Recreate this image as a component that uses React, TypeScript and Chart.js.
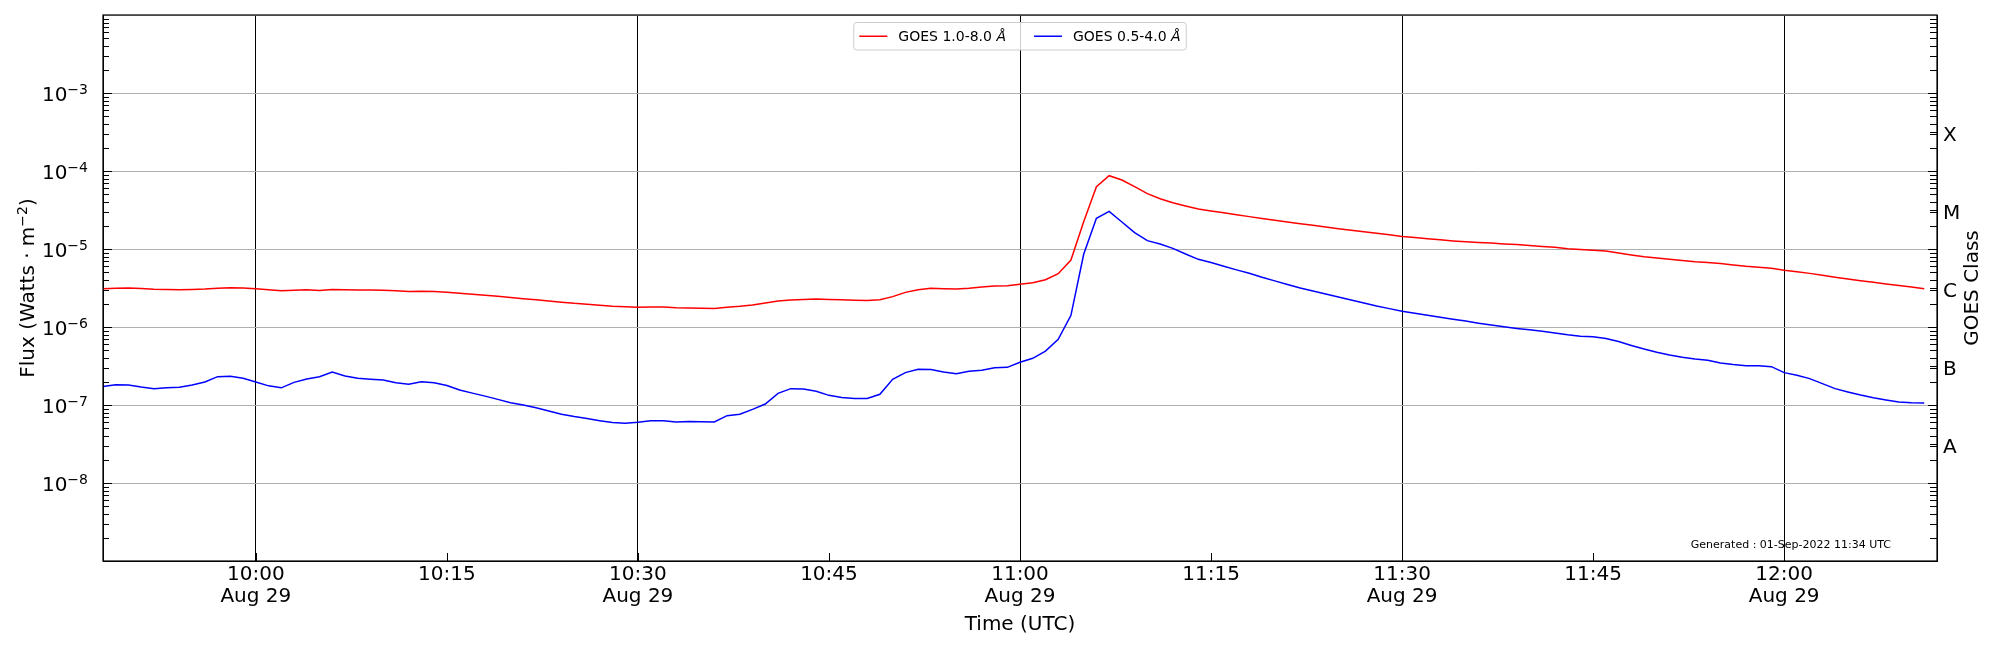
import { useEffect, useRef } from 'react';
import { Chart, registerables } from 'chart.js';

Chart.register(...registerables);

// one sample per minute, starting 09:48 UTC on Aug 29
const START_MINUTE = 9 * 60 + 48;
const X_MIN = START_MINUTE;
const X_MAX = START_MINUTE + 144;

const xrsLong = [
  3.10e-6, 3.15e-6, 3.16e-6, 3.12e-6, 3.05e-6, 3.02e-6, 3.00e-6, 3.02e-6, 3.06e-6, 3.15e-6,
  3.19e-6, 3.17e-6, 3.10e-6, 3.00e-6, 2.91e-6, 2.95e-6, 3.00e-6, 2.93e-6, 3.02e-6, 3.00e-6,
  2.99e-6, 2.98e-6, 2.96e-6, 2.92e-6, 2.86e-6, 2.87e-6, 2.85e-6, 2.78e-6, 2.70e-6, 2.63e-6,
  2.55e-6, 2.47e-6, 2.39e-6, 2.31e-6, 2.23e-6, 2.16e-6, 2.08e-6, 2.01e-6, 1.96e-6, 1.90e-6,
  1.85e-6, 1.82e-6, 1.79e-6, 1.80e-6, 1.80e-6, 1.76e-6, 1.75e-6, 1.74e-6, 1.73e-6, 1.79e-6,
  1.84e-6, 1.92e-6, 2.03e-6, 2.15e-6, 2.22e-6, 2.26e-6, 2.28e-6, 2.26e-6, 2.23e-6, 2.20e-6,
  2.18e-6, 2.24e-6, 2.45e-6, 2.78e-6, 3.01e-6, 3.13e-6, 3.10e-6, 3.07e-6, 3.15e-6, 3.26e-6,
  3.36e-6, 3.39e-6, 3.53e-6, 3.70e-6, 4.04e-6, 4.83e-6, 7.23e-6, 2.24e-5, 6.29e-5, 8.71e-5,
  7.67e-5, 6.29e-5, 5.12e-5, 4.41e-5, 3.92e-5, 3.56e-5, 3.26e-5, 3.08e-5, 2.91e-5, 2.75e-5,
  2.60e-5, 2.46e-5, 2.33e-5, 2.22e-5, 2.11e-5, 2.01e-5, 1.91e-5, 1.82e-5, 1.74e-5, 1.66e-5,
  1.59e-5, 1.52e-5, 1.45e-5, 1.40e-5, 1.35e-5, 1.31e-5, 1.27e-5, 1.24e-5, 1.21e-5, 1.19e-5,
  1.16e-5, 1.14e-5, 1.11e-5, 1.08e-5, 1.05e-5, 1.01e-5, 9.85e-6, 9.65e-6, 9.40e-6, 8.90e-6,
  8.40e-6, 7.97e-6, 7.65e-6, 7.38e-6, 7.12e-6, 6.88e-6, 6.72e-6, 6.50e-6, 6.25e-6, 6.02e-6,
  5.85e-6, 5.65e-6, 5.33e-6, 5.10e-6, 4.87e-6, 4.60e-6, 4.35e-6, 4.12e-6, 3.92e-6, 3.74e-6,
  3.57e-6, 3.40e-6, 3.25e-6, 3.10e-6,
];

const xrsShort = [
  1.72e-7, 1.82e-7, 1.80e-7, 1.70e-7, 1.62e-7, 1.67e-7, 1.69e-7, 1.80e-7, 1.97e-7, 2.31e-7,
  2.33e-7, 2.20e-7, 1.97e-7, 1.76e-7, 1.66e-7, 1.95e-7, 2.15e-7, 2.30e-7, 2.65e-7, 2.36e-7,
  2.20e-7, 2.14e-7, 2.09e-7, 1.93e-7, 1.85e-7, 1.99e-7, 1.93e-7, 1.78e-7, 1.56e-7, 1.42e-7,
  1.30e-7, 1.18e-7, 1.07e-7, 1.00e-7, 9.2e-8, 8.4e-8, 7.6e-8, 7.1e-8, 6.7e-8, 6.3e-8,
  5.95e-8, 5.85e-8, 6.0e-8, 6.3e-8, 6.3e-8, 6.05e-8, 6.15e-8, 6.1e-8, 6.05e-8, 7.3e-8,
  7.6e-8, 8.8e-8, 1.03e-7, 1.41e-7, 1.62e-7, 1.60e-7, 1.50e-7, 1.33e-7, 1.25e-7, 1.21e-7,
  1.21e-7, 1.37e-7, 2.13e-7, 2.60e-7, 2.87e-7, 2.85e-7, 2.65e-7, 2.52e-7, 2.70e-7, 2.79e-7,
  3.01e-7, 3.04e-7, 3.53e-7, 3.97e-7, 4.92e-7, 6.95e-7, 1.41e-6, 8.55e-6, 2.47e-5, 3.04e-5,
  2.22e-5, 1.62e-5, 1.28e-5, 1.16e-5, 1.02e-5, 8.63e-6, 7.37e-6, 6.70e-6, 6.0e-6, 5.4e-6,
  4.9e-6, 4.35e-6, 3.9e-6, 3.5e-6, 3.16e-6, 2.9e-6, 2.65e-6, 2.42e-6, 2.22e-6, 2.03e-6,
  1.86e-6, 1.72e-6, 1.59e-6, 1.50e-6, 1.41e-6, 1.33e-6, 1.26e-6, 1.19e-6, 1.12e-6, 1.06e-6,
  1.01e-6, 9.6e-7, 9.2e-7, 8.8e-7, 8.4e-7, 7.95e-7, 7.6e-7, 7.52e-7, 7.1e-7, 6.5e-7,
  5.8e-7, 5.22e-7, 4.75e-7, 4.38e-7, 4.1e-7, 3.9e-7, 3.75e-7, 3.45e-7, 3.30e-7, 3.19e-7,
  3.19e-7, 3.10e-7, 2.60e-7, 2.40e-7, 2.18e-7, 1.88e-7, 1.62e-7, 1.47e-7, 1.34e-7, 1.24e-7,
  1.16e-7, 1.09e-7, 1.07e-7, 1.06e-7,
];

// x ticks, minutes of the day
const timeTicks = [600, 615, 630, 645, 660, 675, 690, 705, 720];
const timeTickLabels = ['10:00', '10:15', '10:30', '10:45', '11:00', '11:15', '11:30', '11:45', '12:00'];
const DATE_LABEL = 'Aug 29';

// y decades; labelled ones get "10" with a superscript exponent
const fluxTicks = [1e-9, 1e-8, 1e-7, 1e-6, 1e-5, 1e-4, 1e-3, 1e-2];
const fluxExponents = ['', '−8', '−7', '−6', '−5', '−4', '−3', ''];

const classCenters = [3.162e-8, 3.162e-7, 3.162e-6, 3.162e-5, 3.162e-4];
const classLabels = ['A', 'B', 'C', 'M', 'X'];

const FONT = "'DejaVu Sans', sans-serif";
const GENERATED = 'Generated : 01-Sep-2022 11:34 UTC';

Chart.defaults.font.family = FONT;
Chart.defaults.color = '#000';

// pin every axis box so the plot area lands where the reference has it
const pinBox = (size: number, horizontal: boolean) => (s: any) => {
  if (horizontal) {
    s.height = size;
    s.paddingLeft = 0;
    s.paddingRight = 0;
  } else {
    s.width = size;
    s.paddingTop = 0;
    s.paddingBottom = 0;
  }
};

// text with a raised smaller part, like matplotlib mathtext; returns total width
type Part = { t: string; sup?: boolean };
const drawParts = (ctx: any, parts: Part[], x: number, y: number, align: 'left' | 'right' | 'center') => {
  const big = `20px ${FONT}`;
  const small = `14px ${FONT}`;
  const widths = parts.map((p) => {
    ctx.font = p.sup ? small : big;
    return ctx.measureText(p.t).width;
  });
  const total = widths.reduce((s, w) => s + w, 0);
  let cx = align === 'left' ? x : align === 'right' ? x - total : x - total / 2;
  ctx.textAlign = 'left';
  ctx.textBaseline = 'alphabetic';
  parts.forEach((p, i) => {
    ctx.font = p.sup ? small : big;
    ctx.fillText(p.t, cx, p.sup ? y - 7 : y);
    cx += widths[i];
  });
};

const decorPlugin = {
  id: 'goesDecor',
  afterDraw(chart: any) {
    const { ctx, chartArea: a, scales } = chart;
    const y = scales.y;
    const x = scales.x;
    ctx.save();

    // inward log ticks on both sides
    ctx.strokeStyle = '#000';
    ctx.lineWidth = 1;
    ctx.beginPath();
    for (let e = -9; e <= -3; e++) {
      for (let k = 1; k <= 9; k++) {
        const v = k * Math.pow(10, e);
        const py = Math.round(y.getPixelForValue(v)) + 0.5;
        ctx.moveTo(a.left, py);
        ctx.lineTo(a.left + (k === 1 ? 9 : 6), py);
        ctx.moveTo(a.right, py);
        ctx.lineTo(a.right - (k === 1 ? 9 : 7), py);
      }
    }
    classCenters.forEach((v) => {
      const py = Math.round(y.getPixelForValue(v)) + 0.5;
      ctx.moveTo(a.right, py);
      ctx.lineTo(a.right - 7, py);
    });
    x.ticks.forEach((t: any) => {
      const px = Math.round(x.getPixelForValue(t.value)) + 0.5;
      ctx.moveTo(px, a.bottom);
      ctx.lineTo(px, a.bottom - 8);
    });
    ctx.stroke();

    // frame
    ctx.lineWidth = 1.2;
    ctx.strokeRect(a.left, a.top, a.right - a.left, a.bottom - a.top);

    ctx.fillStyle = '#000';

    // left tick labels 10^-n
    fluxTicks.forEach((v, i) => {
      if (!fluxExponents[i]) return;
      const py = y.getPixelForValue(v);
      drawParts(ctx, [{ t: '10' }, { t: fluxExponents[i], sup: true }], a.left - 15, py + 8, 'right');
    });

    // left axis title
    ctx.save();
    ctx.translate(27, (a.top + a.bottom) / 2);
    ctx.rotate(-Math.PI / 2);
    drawParts(ctx, [{ t: 'Flux (Watts · m' }, { t: '−2', sup: true }, { t: ')' }], 0, 7, 'center');
    ctx.restore();

    // right axis title, reads bottom to top
    ctx.font = `20px ${FONT}`;
    ctx.textAlign = 'center';
    ctx.textBaseline = 'middle';
    ctx.save();
    ctx.translate(a.right + 36, (a.top + a.bottom) / 2);
    ctx.rotate(-Math.PI / 2);
    ctx.fillText('GOES Class', 0, 0);
    ctx.restore();

    // generated stamp
    ctx.font = `11px ${FONT}`;
    ctx.textAlign = 'right';
    ctx.textBaseline = 'alphabetic';
    ctx.fillText(GENERATED, a.right - 46, a.bottom - 13);

    // legend
    const fs = 14;
    const regular = `${fs}px ${FONT}`;
    const italic = `italic ${fs}px ${FONT}`;
    const items = chart.data.datasets.map((ds: any) => {
      const text = String(ds.label);
      const head = text.slice(0, -1);
      const tail = text.slice(-1);
      ctx.font = regular;
      const w1 = ctx.measureText(head).width;
      ctx.font = italic;
      const w2 = ctx.measureText(tail).width;
      return { head, tail, w1, w: w1 + w2, color: ds.borderColor };
    });
    const pad = 5.6;
    const handle = 28;
    const hgap = 11;
    const colgap = 28;
    const W = pad * 2 + items.reduce((s: number, it: any) => s + handle + hgap + it.w, 0) + colgap * (items.length - 1);
    const H = 27.5;
    const bx = (a.left + a.right) / 2 - W / 2;
    const by = a.top + 7.5;
    ctx.beginPath();
    ctx.roundRect(bx, by, W, H, 3);
    ctx.fillStyle = 'rgba(255,255,255,0.8)';
    ctx.fill();
    ctx.strokeStyle = '#cccccc';
    ctx.lineWidth = 1;
    ctx.stroke();
    let cx = bx + pad;
    const cy = by + H / 2;
    ctx.textAlign = 'left';
    ctx.textBaseline = 'middle';
    items.forEach((it: any) => {
      ctx.beginPath();
      ctx.strokeStyle = it.color;
      ctx.lineWidth = 1.5;
      ctx.moveTo(cx, cy);
      ctx.lineTo(cx + handle, cy);
      ctx.stroke();
      ctx.fillStyle = '#000';
      ctx.font = regular;
      ctx.fillText(it.head, cx + handle + hgap, cy + 1);
      ctx.font = italic;
      ctx.fillText(it.tail, cx + handle + hgap + it.w1, cy + 1);
      cx += handle + hgap + it.w + colgap;
    });

    ctx.restore();
  },
};

export default function App() {
  const canvasRef = useRef<HTMLCanvasElement>(null);

  useEffect(() => {
    if (!canvasRef.current) return;
    const times = xrsLong.map((_, i) => START_MINUTE + i);

    const chart = new Chart(canvasRef.current, {
      type: 'line',
      data: {
        datasets: [
          {
            label: 'GOES 1.0-8.0 Å',
            data: times.map((t, i) => ({ x: t, y: xrsLong[i] })),
            borderColor: '#ff0000',
            borderWidth: 1.5,
            pointRadius: 0,
            tension: 0,
            yAxisID: 'y',
          },
          {
            label: 'GOES 0.5-4.0 Å',
            data: times.map((t, i) => ({ x: t, y: xrsShort[i] })),
            borderColor: '#0000ff',
            borderWidth: 1.5,
            pointRadius: 0,
            tension: 0,
            yAxisID: 'y',
          },
        ],
      },
      options: {
        animation: false,
        responsive: true,
        maintainAspectRatio: false,
        layout: { padding: { top: 15, left: 0, right: 0, bottom: 0 } },
        plugins: {
          legend: { display: false },
          tooltip: { enabled: false },
        },
        scales: {
          x: {
            type: 'linear',
            min: X_MIN,
            max: X_MAX,
            afterBuildTicks: (s: any) => {
              s.ticks = timeTicks.map((v) => ({ value: v }));
            },
            afterFit: pinBox(89, true),
            ticks: {
              autoSkip: false,
              maxRotation: 0,
              minRotation: 0,
              padding: 3,
              color: '#000',
              font: { size: 20, lineHeight: 1.1 },
              callback: (v: any) => {
                const i = timeTicks.indexOf(Number(v));
                if (i < 0) return '';
                return Number(v) % 30 === 0 ? [timeTickLabels[i], DATE_LABEL] : timeTickLabels[i];
              },
            },
            grid: {
              color: (c: any) => (c.tick && c.tick.value % 30 === 0 ? '#000000' : 'rgba(0,0,0,0)'),
              lineWidth: 1,
              drawTicks: false,
            },
            border: { display: true, color: '#000', width: 1 },
            title: {
              display: true,
              text: 'Time (UTC)',
              color: '#000',
              font: { size: 20 },
              padding: { top: 0, bottom: 13 },
            },
          },
          y: {
            type: 'logarithmic',
            position: 'left',
            min: 1e-9,
            max: 1e-2,
            afterBuildTicks: (s: any) => {
              s.ticks = fluxTicks.map((v) => ({ value: v, major: true }));
            },
            afterFit: pinBox(103, false),
            ticks: { display: false },
            grid: { color: '#b0b0b0', lineWidth: 1, drawTicks: false },
            border: { display: true, color: '#000', width: 1 },
          },
          y2: {
            type: 'logarithmic',
            position: 'right',
            min: 1e-9,
            max: 1e-2,
            afterBuildTicks: (s: any) => {
              s.ticks = classCenters.map((v) => ({ value: v }));
            },
            afterFit: pinBox(63, false),
            ticks: {
              padding: 6,
              labelOffset: 4,
              color: '#000',
              font: { size: 20 },
              callback: (_v: any, i: number) => classLabels[i],
            },
            grid: { display: false, drawTicks: false },
            border: { display: true, color: '#000', width: 1 },
          },
        },
      },
      plugins: [decorPlugin],
    } as any);

    return () => chart.destroy();
  }, []);

  return (
    <div style={{ position: 'absolute', left: 0, top: 0, width: 2000, height: 650, background: '#fff' }}>
      <canvas ref={canvasRef} />
    </div>
  );
}
